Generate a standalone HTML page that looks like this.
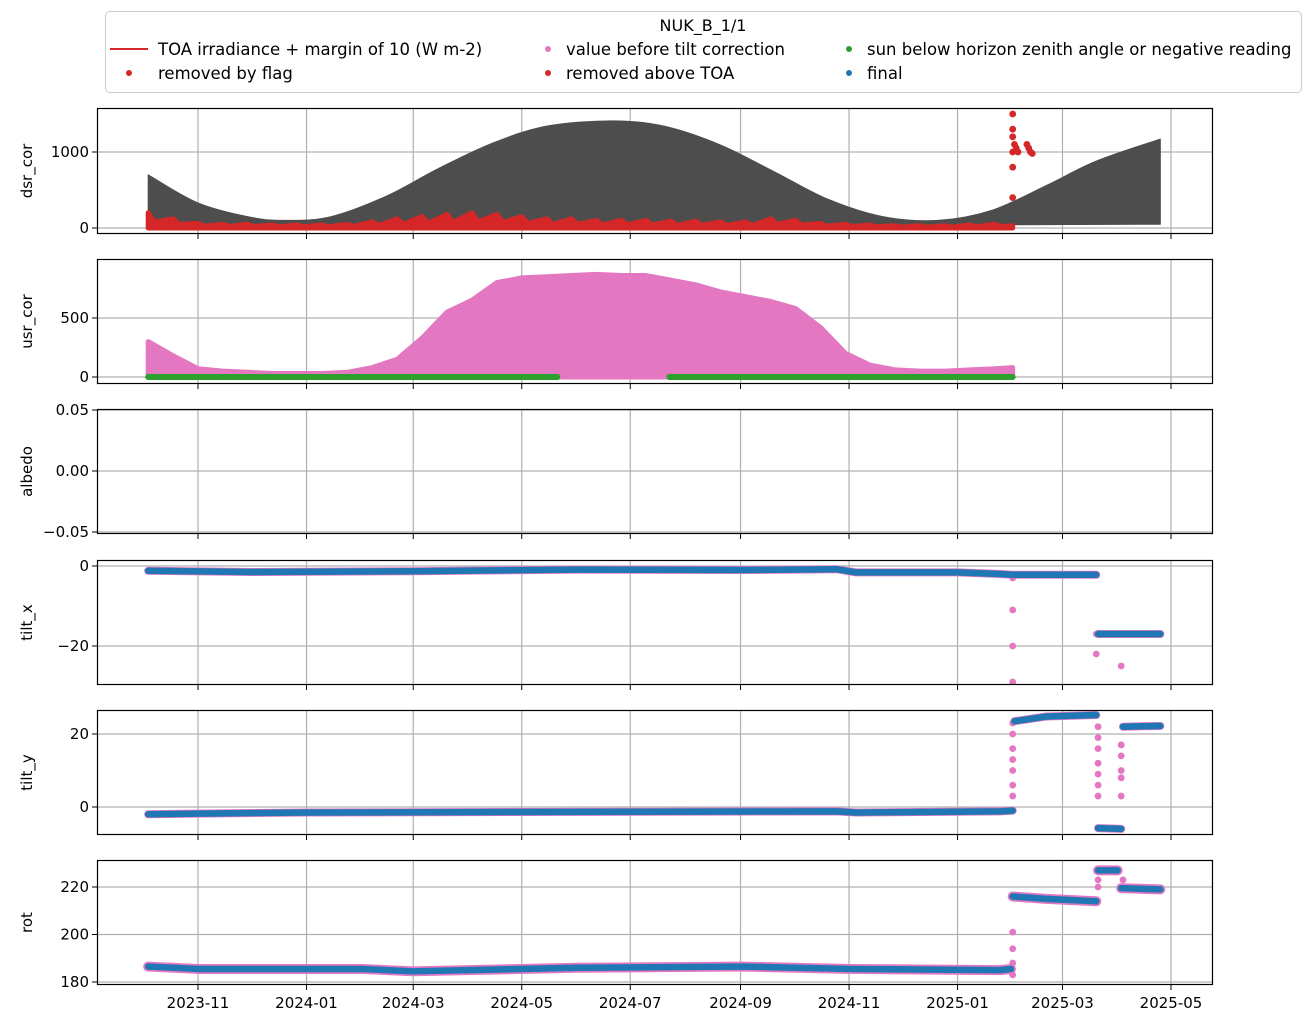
<!DOCTYPE html>
<html><head><meta charset="utf-8"><style>
body{margin:0;background:#fff;}
svg{display:block;font-family:"DejaVu Sans","Liberation Sans",sans-serif;}
</style></head><body>
<svg id="chart" width="1314" height="1024" xmlns="http://www.w3.org/2000/svg">
<g>
<rect x="105.5" y="11.5" width="1196" height="81" rx="4" fill="#fff" stroke="#ccc"/>
<text x="703" y="31" font-size="16" text-anchor="middle">NUK_B_1/1</text>
<g><line x1="110" y1="49" x2="148" y2="49" stroke="#d62728" stroke-width="2"/><text x="158" y="55" font-size="16.5">TOA irradiance + margin of 10 (W m-2)</text></g>
<g><circle cx="129" cy="73" r="3" fill="#d62728"/><text x="158" y="79" font-size="16.5">removed by flag</text></g>
<g><circle cx="548" cy="49" r="3" fill="#e377c2"/><text x="566" y="55" font-size="16.5">value before tilt correction</text></g>
<g><circle cx="548" cy="73" r="3" fill="#d62728"/><text x="566" y="79" font-size="16.5">removed above TOA</text></g>
<g><circle cx="849" cy="49" r="3" fill="#2ca02c"/><text x="867" y="55" font-size="16.5">sun below horizon zenith angle or negative reading</text></g>
<g><circle cx="849" cy="73" r="3" fill="#1f77b4"/><text x="867" y="79" font-size="16.5">final</text></g>
</g>
</svg>
<script>
// ---- data ----
const xTickLabels=["2023-11","2024-01","2024-03","2024-05","2024-07","2024-09","2024-11","2025-01","2025-03","2025-05"];
const toaDates=["2023-10-04","2023-11-01","2023-12-01","2023-12-21","2024-01-15","2024-02-15","2024-03-15","2024-04-15","2024-05-15","2024-06-21","2024-07-20","2024-08-20","2024-09-20","2024-10-20","2024-11-20","2024-12-21","2025-01-20","2025-02-20","2025-03-20","2025-04-25"];
const toaValues=[700,330,140,100,150,420,780,1120,1340,1410,1340,1100,740,380,150,100,230,560,880,1170];
const binStart="2023-10-04"; // 14-day bins
const flagMax=[200,120,60,50,50,40,40,40,50,80,120,150,180,200,180,150,120,120,100,100,100,90,90,80,80,120,100,60,50,40,30,30,30,40,50];
const usrMax=[300,180,70,50,40,30,30,30,40,80,150,330,550,650,800,840,850,860,870,860,860,820,780,720,680,640,580,420,200,100,60,50,50,60,70];
const aboveDates=["2025-02-01","2025-02-01","2025-02-01","2025-02-01","2025-02-01","2025-02-01","2025-02-02","2025-02-03","2025-02-04","2025-02-09","2025-02-10","2025-02-11","2025-02-12"];
const aboveValues=[400,800,1000,1200,1300,1500,1100,1050,1000,1100,1050,1000,980];
const greenRanges=[["2023-10-04","2024-05-21"],["2024-07-23","2025-02-01"]];
const tiltXDates=["2023-10-04","2023-12-01","2024-03-01","2024-06-01","2024-09-01","2024-10-25","2024-11-05","2025-01-01","2025-01-25","2025-02-01","2025-03-20","2025-03-21","2025-04-25"];
const tiltXValues=[-1.2,-1.5,-1.3,-0.9,-1.0,-0.8,-1.6,-1.6,-2.0,-2.2,-2.2,-17.0,-17.0];
const tiltXOutDates=["2025-02-01","2025-02-01","2025-02-01","2025-02-01","2025-03-20","2025-03-20","2025-04-03"];
const tiltXOutValues=[-3,-11,-20,-29,-17,-22,-25];
const tiltYDates=["2023-10-04","2023-11-01","2024-01-01","2024-10-25","2024-11-05","2025-01-25","2025-02-01","2025-02-02","2025-02-20","2025-03-20","2025-03-21","2025-04-03","2025-04-04","2025-04-25"];
const tiltYValues=[-2.0,-1.8,-1.5,-1.2,-1.5,-1.2,-1.0,23.5,24.8,25.2,-5.8,-6.0,22.0,22.2];
const tiltYOutDates=["2025-02-01","2025-02-01","2025-02-01","2025-02-01","2025-02-01","2025-02-01","2025-02-01","2025-03-21","2025-03-21","2025-03-21","2025-03-21","2025-03-21","2025-03-21","2025-03-21","2025-04-03","2025-04-03","2025-04-03","2025-04-03","2025-04-03"];
const tiltYOutValues=[3,6,10,13,16,20,23,22,19,16,12,9,6,3,17,14,10,8,3];
const rotDates=["2023-10-04","2023-11-01","2024-02-01","2024-03-01","2024-06-01","2024-09-01","2024-11-01","2025-01-25","2025-01-31","2025-02-01","2025-02-20","2025-03-20","2025-03-21","2025-04-01","2025-04-03","2025-04-25"];
const rotValues=[186.5,185.5,185.5,184.5,186,186.5,185.5,185,185.5,216,215,214,227,227,219.5,219];
const rotOutDates=["2025-02-01","2025-02-01","2025-02-01","2025-02-01","2025-03-21","2025-03-21","2025-04-04"];
const rotOutValues=[183,188,194,201,220,223,223];

// ---- scales ----
const X0=Date.UTC(2023,10,1);
function xs(d){const p=d.split("-").map(Number);return 198+(Date.UTC(p[0],p[1]-1,p[2]||1)-X0)/864e5*1.7788;}
function binX(i){return xs(binStart)+i*14*1.7788;}
const L=97,R=1213;
const panels=[
 {name:"dsr_cor",top:108,bot:234,v0:0,y0:228,v1:1000,y1:152,ticks:[0,1000],fmt:v=>String(v),jump:1e9},
 {name:"usr_cor",top:259,bot:384,v0:0,y0:377,v1:500,y1:318,ticks:[0,500],fmt:v=>String(v),jump:1e9},
 {name:"albedo",top:409,bot:534,v0:0,y0:471,v1:0.05,y1:410,ticks:[-0.05,0,0.05],fmt:v=>v.toFixed(2).replace("-","\u2212"),jump:1e9},
 {name:"tilt_x",top:560,bot:685,v0:0,y0:566,v1:-20,y1:646,ticks:[0,-20],fmt:v=>String(v).replace("-","\u2212"),jump:5},
 {name:"tilt_y",top:710,bot:835,v0:0,y0:807,v1:20,y1:734,ticks:[0,20],fmt:v=>String(v),jump:5},
 {name:"rot",top:860,bot:985,v0:180,y0:982,v1:220,y1:887,ticks:[180,200,220],fmt:v=>String(v),jump:5}
];
panels.forEach(p=>{p.ys=v=>p.y0+(v-p.v0)*(p.y1-p.y0)/(p.v1-p.v0);});
const svg=document.getElementById("chart");
const NS="http://www.w3.org/2000/svg";
function mk(tag,attrs,parent){const e=document.createElementNS(NS,tag);for(const k in attrs)e.setAttribute(k,attrs[k]);(parent||svg).appendChild(e);return e;}

panels.forEach((p,pi)=>{
 const g=mk("g",{});
 
 
 p.g=g;
 const cp=mk("clipPath",{id:"cp"+pi},g);mk("rect",{x:L,y:p.top,width:R-L,height:p.bot-p.top},cp);
 xTickLabels.forEach(t=>{const x=xs(t+"-01");
  const gl=mk("line",{x1:x,x2:x,y1:p.top,y2:p.bot,stroke:"#b0b0b0","stroke-width":1.2},g);
  
  
  mk("line",{x1:x,x2:x,y1:p.bot,y2:p.bot+5,stroke:"#000"},g);
  if(pi===panels.length-1){const tx=mk("text",{x:x,y:p.bot+23,"font-size":15,"text-anchor":"middle"},g);tx.textContent=t;
   
   }
 });
 p.ticks.forEach(v=>{const y=p.ys(v);
  const gl=mk("line",{x1:L,x2:R,y1:y,y2:y,stroke:"#b0b0b0","stroke-width":1.2},g);
  
  
  mk("line",{x1:L-5,x2:L,y1:y,y2:y,stroke:"#000"},g);
  const tx=mk("text",{x:L-8,y:y+5,"font-size":15,"text-anchor":"end"},g);tx.textContent=p.fmt(v);
  
  
 });
 const yl=mk("text",{transform:`translate(32,${(p.top+p.bot)/2}) rotate(-90)`,"font-size":15,"text-anchor":"middle"},g);yl.textContent=p.name;
 
 
 p.data=mk("g",{"clip-path":`url(#cp${pi})`},g);
});
function frame(p){const r=mk("rect",{x:L+0.5,y:p.top+0.5,width:R-L-1,height:p.bot-p.top-1,fill:"none",stroke:"#000","stroke-width":1.2},p.g);
 
 }
function dot(p,x,y,c,name){const c1=mk("circle",{cx:x,cy:y,r:3.4,fill:c},p.data);
 
 }

// panel 1
{const p=panels[0];
 const pts=toaDates.map((t,i)=>[xs(t),p.ys(toaValues[i])]);
 let d=`M${pts[0][0]},${p.ys(0)} L${pts[0][0]},${pts[0][1]}`;
 for(let i=0;i<pts.length-1;i++){
  const p0=pts[Math.max(0,i-1)],p1=pts[i],p2=pts[i+1],p3=pts[Math.min(pts.length-1,i+2)];
  const c1=[p1[0]+(p2[0]-p0[0])/6,p1[1]+(p2[1]-p0[1])/6],c2=[p2[0]-(p3[0]-p1[0])/6,p2[1]-(p3[1]-p1[1])/6];
  d+=` C${c1[0]},${c1[1]} ${c2[0]},${c2[1]} ${p2[0]},${p2[1]}`;
 }
 d+=` L${pts[pts.length-1][0]},${p.ys(50)} Z`;
 const a=mk("path",{d:d,fill:"#4d4d4d","stroke":"#4d4d4d","stroke-linejoin":"round"},p.data);
 
 
 let f=`M${binX(0)},${p.ys(0)}`;
 flagMax.forEach((v,i)=>{f+=` L${binX(i)},${p.ys(v)} L${binX(i)+6},${p.ys(v*0.4)}`;});
 f+=` L${xs("2025-02-01")},${p.ys(30)} L${xs("2025-02-01")},${p.ys(0)} Z`;
 const fa=mk("path",{d:f,fill:"#d62728",stroke:"#d62728","stroke-width":5,"stroke-linejoin":"round"},p.data);
 
 
 aboveDates.forEach((t,i)=>dot(p,xs(t),p.ys(aboveValues[i]),"#d62728","removed-above-toa-point"));
 frame(p);}
// panel 2
{const p=panels[1];
 let d=`M${binX(0)},${p.ys(0)}`;
 usrMax.forEach((v,i)=>{d+=` L${binX(i)},${p.ys(v)}`;});
 d+=` L${xs("2025-02-01")},${p.ys(80)} L${xs("2025-02-01")},${p.ys(0)} Z`;
 const a=mk("path",{d:d,fill:"#e377c2",stroke:"#e377c2","stroke-width":5,"stroke-linejoin":"round"},p.data);
 
 
 greenRanges.forEach(r=>{const l=mk("line",{x1:xs(r[0]),x2:xs(r[1]),y1:p.ys(0),y2:p.ys(0),stroke:"#2ca02c","stroke-width":6,"stroke-linecap":"round"},p.data);
  
  });
 frame(p);}
frame(panels[2]);
// step series (break path at large jumps)
function pathOf(p,dates,vals){let d="";dates.forEach((t,i)=>{const brk=i===0||Math.abs(vals[i]-vals[i-1])>p.jump;d+=(brk?" M":" L")+xs(t)+","+p.ys(vals[i]);});return d;}
function steps(p,dates,vals,outD,outV,name,band){
 const d=pathOf(p,dates,vals);
 const b=mk("path",{d:d,fill:"none",stroke:"#e377c2","stroke-width":band,"stroke-linejoin":"round","stroke-linecap":"round"},p.data);
 
 
 outD.forEach((t,i)=>dot(p,xs(t),p.ys(outV[i]),"#e377c2",name+'-outlier'));
 const l=mk("path",{d:d,fill:"none",stroke:"#1f77b4","stroke-width":6.5,"stroke-linejoin":"round","stroke-linecap":"round"},p.data);
 
 
 frame(p);}
steps(panels[3],tiltXDates,tiltXValues,tiltXOutDates,tiltXOutValues,"tilt-x",8);
steps(panels[4],tiltYDates,tiltYValues,tiltYOutDates,tiltYOutValues,"tilt-y",8);
steps(panels[5],rotDates,rotValues,rotOutDates,rotOutValues,"rot",10);
</script>
</body></html>
